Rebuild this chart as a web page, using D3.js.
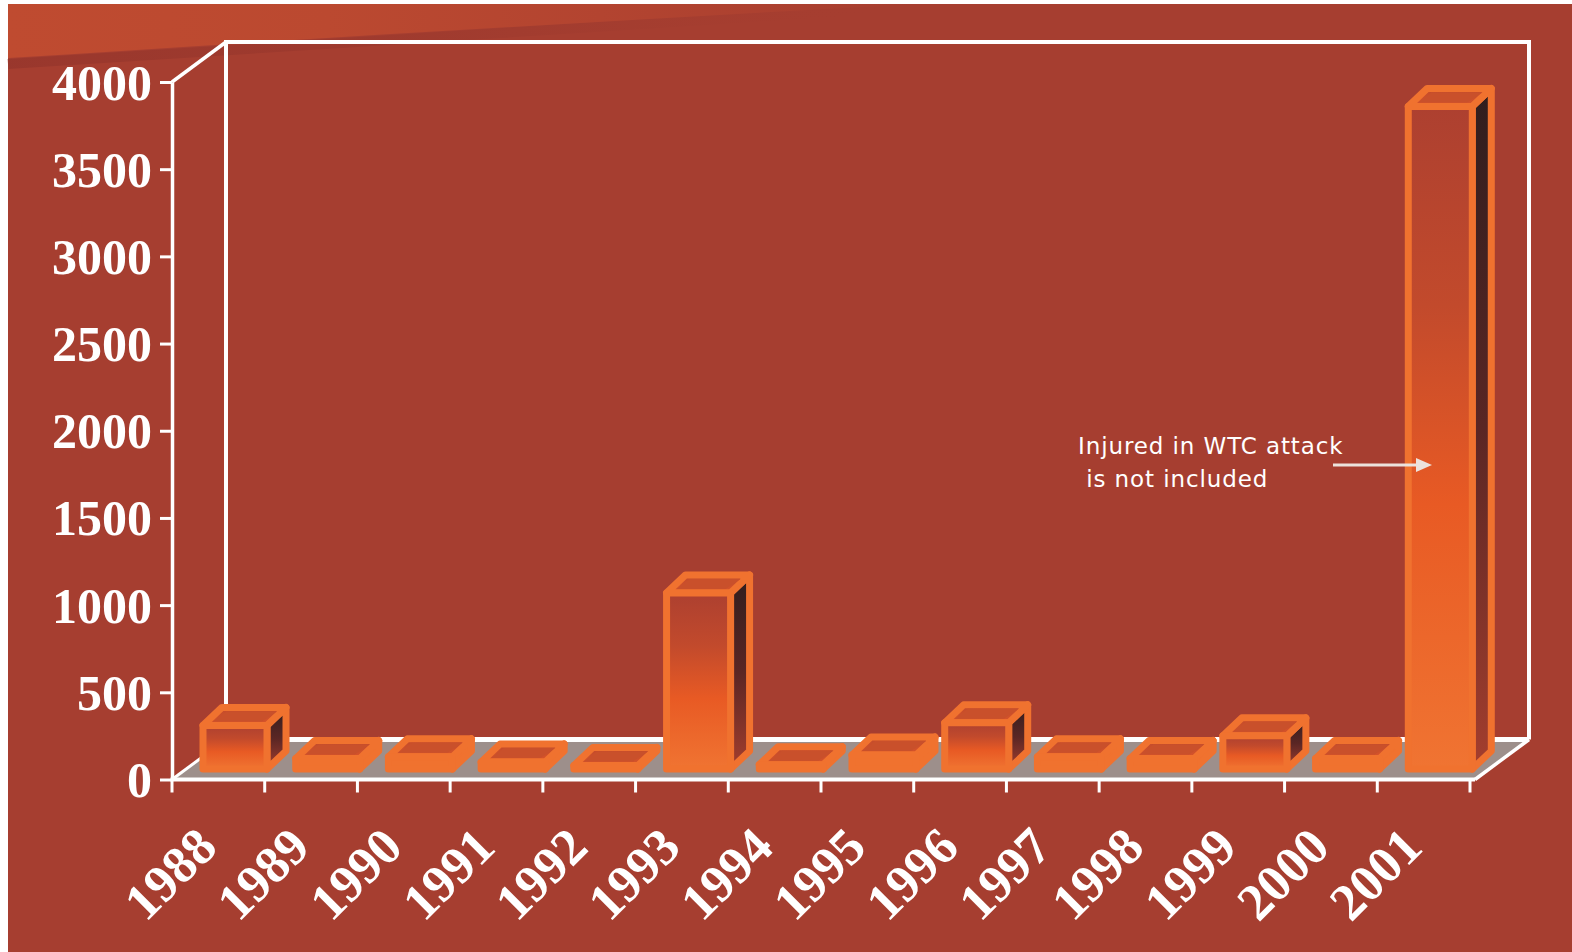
<!DOCTYPE html>
<html>
<head>
<meta charset="utf-8">
<script src="https://cdn.jsdelivr.net/npm/d3@7"></script>
<style>
html,body{margin:0;padding:0;background:#fff;}
svg{display:block;}
</style>
</head>
<body>
<svg id="chart" width="1572" height="952"></svg>
<script>
// ---- data ----
const years = ["1988","1989","1990","1991","1992","1993","1994","1995","1996","1997","1998","1999","2000","2001"];
const injured = [250, 60, 70, 40, 20, 1010, 25, 80, 265, 70, 60, 190, 60, 3800];
const yTicks = [0, 500, 1000, 1500, 2000, 2500, 3000, 3500, 4000];
const noteLines = ["Injured in WTC attack", " is not included"];

// ---- layout ----
const svg = d3.select("#chart");
const W = 1572, H = 952;
const depth = {dx: 54, dy: -40};      // wall depth
const barDepth = {dx: 19, dy: -18};   // bar depth
const barShift = {dx: 31, dy: -10.5}; // bar placement inside the box
const barW = 64;

const x = d3.scaleBand().domain(years).range([172, 1470]).padding(0);
const y = d3.scaleLinear().domain([0, 4000]).range([779.5, 82]);

const defs = svg.append("defs");
function lin(id, x1, y1, x2, y2, stops) {
  const g = defs.append("linearGradient").attr("id", id)
    .attr("x1", x1).attr("y1", y1).attr("x2", x2).attr("y2", y2);
  stops.forEach(s => g.append("stop").attr("offset", s[0]).attr("stop-color", s[1]).attr("stop-opacity", s[2] == null ? 1 : s[2]));
}
lin("gTop", 0, 0, 1, 0, [[0, "#bf4b30"], [0.35, "#bb4930"], [0.65, "#b34430"], [1, "#a63e30"]]);
lin("gStreak", 0, 0, 1, 0, [[0, "#97362c", 0.85], [0.45, "#9a382d", 0.55], [1, "#a63e30", 0]]);
lin("gFront", 0, 0, 0, 1, [[0, "#ad4030"], [0.3, "#c24a2c"], [0.6, "#e85a24"], [1, "#f07432"]]);
lin("gSide", 0, 0, 0, 1, [[0, "#301e1e"], [0.5, "#5a2624"], [1, "#a43e2e"]]);
lin("gTopFace", 0, 0, 0, 1, [[0, "#c04a2c"], [1, "#d9552a"]]);

// ---- background ----
svg.append("rect").attr("x", 8).attr("y", 4).attr("width", W - 8).attr("height", H - 4).attr("fill", "#a63e30");
svg.append("path").attr("fill", "none").attr("stroke", "url(#gStreak)").attr("stroke-width", 10)
  .attr("d", "M8,64 C300,46 600,26 900,8");
svg.append("path").attr("fill", "url(#gTop)")
  .attr("d", "M8,4 L920,4 C620,20 320,38 8,58 Z");

// ---- box: floor & walls ----
const x0 = x.range()[0], x1 = x.range()[1];
const y0 = y(0), yTop = y(4000);
svg.append("polygon").attr("fill", "#9d8f8b")
  .attr("points", [[x0, y0], [x1 + 5, y0], [x1 + 5 + depth.dx, y0 + depth.dy], [x0 + depth.dx, y0 + depth.dy]].map(p => p.join(",")).join(" "));

const wall = svg.append("g").attr("stroke", "#fff").attr("stroke-width", 4).attr("fill", "none").attr("stroke-linejoin", "miter");
wall.append("polyline").attr("points", [[x0 + depth.dx, y0 + depth.dy], [x0 + depth.dx, yTop + depth.dy], [x1 + 5 + depth.dx, yTop + depth.dy], [x1 + 5 + depth.dx, y0 + depth.dy]].map(p => p.join(",")).join(" "));
wall.append("line").attr("x1", x0 + depth.dx).attr("x2", x1 + 5 + depth.dx).attr("y1", y0 + depth.dy).attr("y2", y0 + depth.dy).attr("stroke-width", 5);
wall.append("line").attr("x1", x0).attr("y1", yTop).attr("x2", x0 + depth.dx).attr("y2", yTop + depth.dy).attr("stroke-width", 3.5);
wall.append("line").attr("x1", x0).attr("y1", y0).attr("x2", x0 + depth.dx).attr("y2", y0 + depth.dy).attr("stroke-width", 3);
wall.append("line").attr("x1", x1 + 5).attr("y1", y0).attr("x2", x1 + 5 + depth.dx).attr("y2", y0 + depth.dy).attr("stroke-width", 3.5);

// ---- bars ----
const bars = svg.append("g");
const pts = a => a.map(p => p.join(",")).join(" ");
years.forEach((yr, i) => {
  const v = injured[i];
  const L = x(yr) + barShift.dx, R = L + barW;
  const B = y(0) + barShift.dy, T = y(v) + barShift.dy;
  const dx = barDepth.dx, dy = barDepth.dy;
  const g = bars.append("g");
  const frame = {stroke: "#f0722f", "stroke-width": 7, "stroke-linejoin": "round"};
  const h = B - T;
  g.append("polygon").attr("points", pts([[R, T], [R + dx, T + dy], [R + dx, B + dy], [R, B]]))
    .attr("fill", h > 20 ? "url(#gSide)" : "#f0722f");
  g.append("polygon").attr("points", pts([[L, T], [R, T], [R + dx, T + dy], [L + dx, T + dy]]))
    .attr("fill", "url(#gTopFace)");
  g.append("rect").attr("x", L).attr("y", T).attr("width", barW).attr("height", Math.max(h, 0.1))
    .attr("fill", h > 14 ? "url(#gFront)" : "#f0722f");
  g.selectAll("polygon,rect").each(function () {
    const s = d3.select(this);
    Object.entries(frame).forEach(([k, val]) => s.attr(k, val));
  });
  const ix = 7, iy = 4;
  g.append("polygon").attr("points", pts([[L + ix + 3, T - iy], [R - ix + 2, T - iy], [R - ix + dx - 2, T + dy + iy], [L + ix + dx - 3, T + dy + iy]]))
    .attr("fill", "#c9502b").attr("stroke", "none");
});

// ---- y axis ----
const yAxis = d3.axisLeft(y).tickValues(yTicks).tickSize(12).tickPadding(8).tickSizeOuter(0).tickFormat(d3.format("d"));
const gy = svg.append("g").attr("transform", `translate(${x0},0)`).call(yAxis);
gy.select(".domain").attr("stroke", "#fff").attr("stroke-width", 3.5);
gy.selectAll(".tick line").attr("stroke", "#fff").attr("stroke-width", 3);
gy.selectAll(".tick text").attr("fill", "#fff")
  .style("font-family", "'Liberation Serif','Times New Roman',serif")
  .style("font-weight", "bold").style("font-size", "50px").attr("dy", "0.34em");

// ---- x axis ----
const gx = svg.append("g");
gx.append("line").attr("x1", x0 - 1.5).attr("x2", x1 + 5).attr("y1", y0).attr("y2", y0).attr("stroke", "#fff").attr("stroke-width", 4);
const bounds = years.map(d => x(d)).concat([x1]);
gx.selectAll("line.tk").data(bounds).join("line").attr("class", "tk")
  .attr("x1", d => d).attr("x2", d => d).attr("y1", y0).attr("y2", y0 + 13)
  .attr("stroke", "#fff").attr("stroke-width", 3);
gx.selectAll("text").data(years).join("text")
  .attr("transform", d => `translate(${x(d) + x.bandwidth() / 2 + 1},${y0 + 70}) rotate(-45)`)
  .attr("text-anchor", "end")
  .attr("fill", "#fff")
  .style("font-family", "'Liberation Serif','Times New Roman',serif")
  .style("font-weight", "bold").style("font-size", "52px")
  .text(d => d);

// ---- annotation ----
const note = svg.append("g");
note.selectAll("text").data(noteLines).join("text")
  .attr("x", 1078).attr("y", (d, i) => 454 + i * 33)
  .attr("fill", "#fff")
  .style("font-family", "'DejaVu Sans',Verdana,sans-serif")
  .style("font-size", "23px").style("letter-spacing", "0.9px").style("white-space", "pre").attr("xml:space", "preserve")
  .text(d => d);
note.append("line").attr("x1", 1333).attr("x2", 1418).attr("y1", 465).attr("y2", 465)
  .attr("stroke", "#ece2dc").attr("stroke-width", 3);
note.append("polygon").attr("points", "1416,458 1432,465 1416,472").attr("fill", "#ece2dc");
</script>
</body>
</html>
